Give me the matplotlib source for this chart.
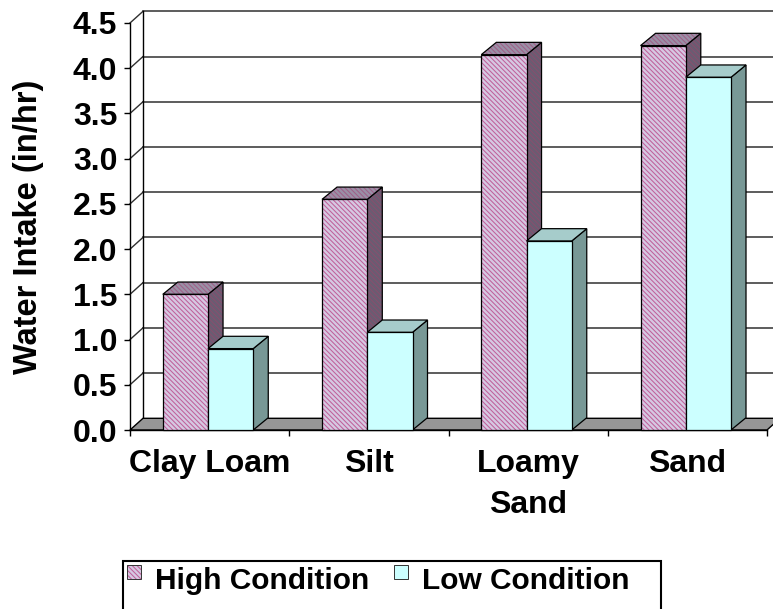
import matplotlib
matplotlib.use("Agg")
import matplotlib.pyplot as plt
from matplotlib.patches import Polygon, Rectangle, Patch
from matplotlib.legend_handler import HandlerBase

# ---- data -------------------------------------------------------------
categories = ["Clay Loam", "Silt", "Loamy\nSand", "Sand"]
series_names = ["High Condition", "Low Condition"]
high_condition = [1.50, 2.55, 4.15, 4.25]
low_condition = [0.90, 1.08, 2.09, 3.90]
y_ticks = [0.0, 0.5, 1.0, 1.5, 2.0, 2.5, 3.0, 3.5, 4.0, 4.5]
y_label = "Water Intake (in/hr)"

# ---- style ------------------------------------------------------------
plt.rcParams["font.family"] = ["Liberation Sans", "DejaVu Sans"]
plt.rcParams["font.weight"] = "bold"
plt.rcParams["hatch.linewidth"] = 0.75

HATCH = "\\" * 7
HIGH_FACES = {"front": ("#D6C8E2", "#C0609A"),
              "top": ("#9A90A6", "#A06088"),
              "side": ("#6A5C72", "#86506E")}
LOW_FACES = {"front": ("#CCFFFF", None),
             "top": ("#A6CCCB", None),
             "side": ("#789896", None)}
FLOOR_COLOR = "#969696"
GRID_COLOR = "#303030"

W, H = 773, 609
fig = plt.figure(figsize=(W / 100, H / 100), dpi=100)

# front plot box in pixels
L, R, T, B = 130, 767, 23, 430
ax = fig.add_axes([L / W, 1 - B / H, (R - L) / W, (B - T) / H])
n = len(categories)
ymax = y_ticks[-1]
ax.set_xlim(0, n)
ax.set_ylim(0, ymax)
ax.patch.set_visible(False)

px_x = (R - L) / n
px_y = (B - T) / ymax
wall_dx, wall_dy = 13 / px_x, 11.7 / px_y
bar_dx, bar_dy = 15 / px_x, 12.3 / px_y
bar_w = 0.284
high_off, low_off = 0.206, 0.490


def face(verts, colors, z):
    fc, hc = colors
    if hc:
        ax.add_patch(Polygon(verts, closed=True, facecolor=fc, edgecolor=hc,
                             hatch=HATCH, lw=0, zorder=z, clip_on=False))
    else:
        ax.add_patch(Polygon(verts, closed=True, facecolor=fc, lw=0,
                             zorder=z, clip_on=False))
    ax.add_patch(Polygon(verts, closed=True, fill=False, edgecolor="black",
                         lw=0.9, zorder=z, clip_on=False, joinstyle="miter"))


def bar3d(x0, v, faces):
    x1 = x0 + bar_w
    face([(x1, 0), (x1 + bar_dx, bar_dy), (x1 + bar_dx, v + bar_dy), (x1, v)],
         faces["side"], 3)
    face([(x0, v), (x1, v), (x1 + bar_dx, v + bar_dy), (x0 + bar_dx, v + bar_dy)],
         faces["top"], 3)
    face([(x0, 0), (x1, 0), (x1, v), (x0, v)], faces["front"], 3)


# back wall gridlines, left wall connectors and back edge
for v in y_ticks[1:]:
    ax.plot([wall_dx, n + 2 * wall_dx], [v + wall_dy] * 2, color=GRID_COLOR,
            lw=1.1, zorder=0.5, clip_on=False)
    ax.plot([0, wall_dx], [v, v + wall_dy], color=GRID_COLOR, lw=1.0,
            zorder=0.5, clip_on=False)
ax.plot([wall_dx, wall_dx], [wall_dy, ymax + wall_dy], color="black", lw=1.0,
        zorder=0.5, clip_on=False)

# floor
ax.add_patch(Polygon([(0, 0), (n, 0), (n + wall_dx, wall_dy), (wall_dx, wall_dy)],
                     closed=True, facecolor=FLOOR_COLOR, edgecolor="black",
                     lw=1.0, zorder=1, clip_on=False))

# bars
for i in range(n):
    bar3d(i + high_off, high_condition[i], HIGH_FACES)
    bar3d(i + low_off, low_condition[i], LOW_FACES)

# axes, ticks and labels
for s in ("top", "right"):
    ax.spines[s].set_visible(False)
for s in ("left", "bottom"):
    ax.spines[s].set_color("black")
    ax.spines[s].set_linewidth(1.0)
    ax.spines[s].set_zorder(2)

ax.set_yticks(y_ticks)
ax.set_yticklabels([f"{v:.1f}" for v in y_ticks])
ax.tick_params(axis="y", direction="out", length=4.3, width=1.0, pad=4.8,
               labelsize=23, color="black")
ax.set_xticks(range(n + 1))
ax.set_xticklabels([])
ax.set_xticks([i + 0.5 for i in range(n)], minor=True)
ax.set_xticklabels(categories, minor=True)
ax.tick_params(axis="x", which="major", direction="out", length=4.3, width=1.0,
               color="black")
ax.tick_params(axis="x", which="minor", length=0, pad=14, labelsize=23)
for lbl in ax.get_xticklabels(minor=True):
    lbl.set_linespacing(1.45)

ax.set_ylabel(y_label, fontsize=23.5, fontweight="bold", va="center")
ax.yaxis.set_label_coords((29 - L) / (R - L), 0.5)


# legend
class SwatchHandler(HandlerBase):
    def __init__(self, colors):
        super().__init__()
        self.colors = colors

    def create_artists(self, legend, orig_handle, xdescent, ydescent,
                       width, height, fontsize, trans):
        fc, hc = self.colors
        s = 0.47 * fontsize
        y0 = 0.33 * fontsize
        if hc:
            fill = Rectangle((-xdescent, y0), s, s, facecolor=fc, edgecolor=hc,
                             hatch=HATCH, lw=0, transform=trans)
        else:
            fill = Rectangle((-xdescent, y0), s, s, facecolor=fc, lw=0,
                             transform=trans)
        border = Rectangle((-xdescent, y0), s, s, fill=False,
                           edgecolor="#333333", lw=0.7, transform=trans)
        return [fill, border]


h_high = Patch(label=series_names[0])
h_low = Patch(label=series_names[1])
leg_fs = 21.5
leg_px = leg_fs / 0.72
fig.legend(handles=[h_high, h_low], ncol=2, loc="center left",
           bbox_to_anchor=(127 / W, 1 - 581 / H), bbox_transform=fig.transFigure,
           frameon=False, fontsize=leg_fs, borderpad=0, borderaxespad=0,
           handlelength=0.47, handleheight=0.47, handletextpad=14 / leg_px,
           columnspacing=25 / leg_px,
           handler_map={h_high: SwatchHandler(HIGH_FACES["front"]),
                        h_low: SwatchHandler(LOW_FACES["front"])})
fig.add_artist(Rectangle((123 / W, 1 - 615 / H), (661 - 123) / W, (615 - 561) / H,
                         transform=fig.transFigure, fill=False,
                         edgecolor="black", lw=1.5))

fig.savefig("out.png", dpi=100)
